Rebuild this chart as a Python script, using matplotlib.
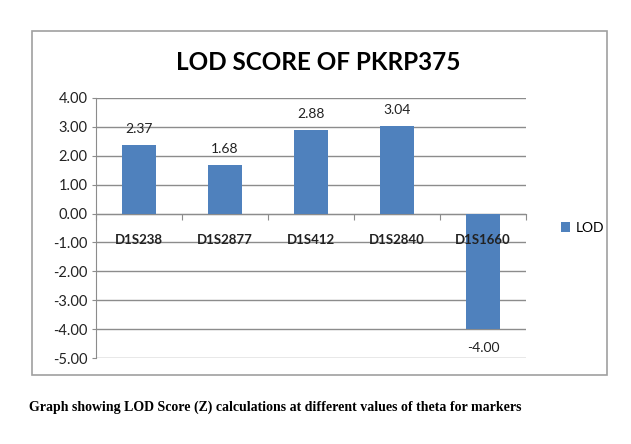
import matplotlib.pyplot as plt
from matplotlib.patches import Rectangle
import numpy as np

markers = ['D1S238', 'D1S2877', 'D1S412', 'D1S2840', 'D1S1660']
lod = [2.37, 1.68, 2.88, 3.04, -4.00]
yticks = [4, 3, 2, 1, 0, -1, -2, -3, -4, -5]

plt.rcParams['font.family'] = ['Lato', 'DejaVu Sans']

fig = plt.figure(figsize=(6.31, 4.44), dpi=100)
fig.patches.append(Rectangle((32/631, 1-375/444), 575/631, 344/444, transform=fig.transFigure,
                             fill=False, edgecolor='#a0a0a0', linewidth=1.2))

ax = fig.add_axes([96/631, 1-358/444, 430/631, 260/444])
x = np.arange(len(markers))
bars = ax.bar(x, lod, width=0.4, color='#4f81bd', label='LOD', zorder=3)

ax.set_xlim(-0.5, len(markers) - 0.5)
ax.set_ylim(-5, 4)
ax.set_yticks(yticks)
ax.set_yticklabels(['%.2f' % v for v in yticks], fontsize=10.5, color='#222222')
ax.yaxis.grid(True, color='#8c8c8c', linewidth=1)
ax.tick_params(axis='y', length=3, color='#8c8c8c', pad=3)

ax.spines['bottom'].set_position(('data', 0))
ax.spines['bottom'].set_color('#8c8c8c')
ax.spines['left'].set_color('#8c8c8c')
ax.spines['top'].set_visible(False)
ax.spines['right'].set_visible(False)
ax.set_xticks(np.arange(len(markers) + 1) - 0.5)
ax.set_xticklabels([])
ax.tick_params(axis='x', length=4, color='#8c8c8c')

# category names sit below the zero line, drawn over the bars
for xi, name in zip(x, markers):
    ax.annotate(name, xy=(xi, 0), xytext=(0, -26), textcoords='offset pixels',
                ha='center', va='center', fontsize=9.5, fontweight='bold', color='#222222', zorder=6)

for xi, v in zip(x, lod):
    if v >= 0:
        ax.text(xi, v + 0.35, '%.2f' % v, ha='center', va='bottom', fontsize=10, color='#222222')
    else:
        ax.text(xi, v - 0.45, '%.2f' % v, ha='center', va='top', fontsize=10, color='#222222')

fig.text(318/631, 1-62/444, 'LOD SCORE OF PKRP375', ha='center', va='center',
         fontsize=17.5, fontweight='bold', color='black')

fig.legend(handles=[bars], labels=['LOD'], loc='center left', bbox_to_anchor=(548/631, 1-228/444),
           frameon=False, fontsize=10, handlelength=0.7, handleheight=0.7, handletextpad=0.4)

fig.text(29/631, 1-407/444, 'Graph showing LOD Score (Z) calculations at different values of theta for markers',
         ha='left', va='center', fontsize=10, fontweight='bold', family='Liberation Serif')

fig.savefig('out.png', dpi=100)
